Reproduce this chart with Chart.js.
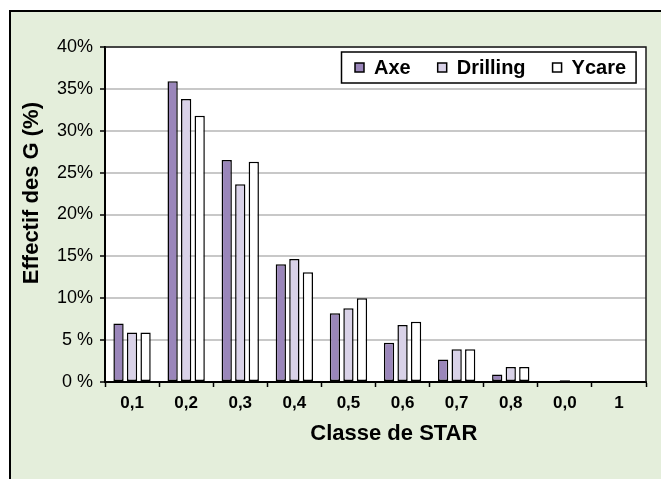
<!DOCTYPE html>
<html>
<head>
<meta charset="utf-8">
<script src="https://cdn.jsdelivr.net/npm/chart.js@4.4.0/dist/chart.umd.min.js"></script>
<style>
html, body { margin: 0; padding: 0; width: 661px; height: 479px; overflow: hidden; background: #fff; }
#frame { position: absolute; left: 9px; top: 10px; width: 700px; height: 520px; background: #e4eedb; border-left: 2px solid #000; border-top: 2px solid #000; }
#chart { position: absolute; left: 0; top: 0; }
</style>
</head>
<body>
<div id="frame"></div>
<canvas id="chart" width="661" height="479"></canvas>
<script>
// classes de STAR
var categories = ['0,1', '0,2', '0,3', '0,4', '0,5', '0,6', '0,7', '0,8', '0,0', '1'];

// effectif des G en %
var axe      = [7.0, 35.9, 26.5, 14.05, 8.2, 4.7, 2.7, 0.9, 0, 0];
var drilling = [5.9, 33.8, 23.6, 14.7, 8.8, 6.8, 3.9, 1.8, 0.2, 0];
var ycare    = [5.9, 31.8, 26.3, 13.1, 10.0, 7.2, 3.9, 1.8, 0, 0];

var yTickLabels = ['0 %', '5 %', '10%', '15%', '20%', '25%', '30%', '35%', '40%'];

var font = "'Liberation Sans', Arial, sans-serif";

// white plot area, top/right frame, and the legend box inside the plot
var plotFrame = {
	id: 'plotFrame',
	beforeDraw: function(chart) {
		var a = chart.chartArea, ctx = chart.ctx;
		ctx.save();
		ctx.fillStyle = '#fff';
		ctx.fillRect(a.left, a.top, a.right - a.left, a.bottom - a.top);
		ctx.restore();
	},
	afterDraw: function(chart) {
		var a = chart.chartArea, ctx = chart.ctx;
		ctx.save();
		ctx.strokeStyle = '#1a1a1a';
		ctx.lineWidth = 1.5;
		ctx.beginPath();
		ctx.moveTo(a.left, a.top);
		ctx.lineTo(a.right, a.top);
		ctx.lineTo(a.right, a.bottom);
		ctx.stroke();

		// legend
		var sets = chart.data.datasets;
		var left = a.left + 236.5, top = a.top + 5, h = 31;
		var cy = top + h / 2;
		var x = left + 13.5;
		ctx.font = 'bold 20px ' + font;
		ctx.textBaseline = 'middle';
		ctx.textAlign = 'left';
		for (var i = 0; i < sets.length; i++) {
			ctx.fillStyle = sets[i].backgroundColor;
			ctx.fillRect(x, cy - 4.5, 9, 9);
			ctx.lineWidth = 1.5;
			ctx.strokeStyle = '#000';
			ctx.strokeRect(x, cy - 4.5, 9, 9);
			x += 19;
			ctx.fillStyle = '#000';
			ctx.fillText(sets[i].label, x, cy + 1);
			x += ctx.measureText(sets[i].label).width;
			if (i < sets.length - 1) x += 27;
		}
		ctx.lineWidth = 1.5;
		ctx.strokeRect(left, top, x + 10 - left, h);
		ctx.restore();
	}
};

function bars(label, values, color) {
	return {
		label: label,
		data: values,
		backgroundColor: color,
		borderColor: '#000',
		borderWidth: 1.5,
		borderSkipped: false,
		categoryPercentage: 0.75,
		barPercentage: 0.76
	};
}

new Chart(document.getElementById('chart'), {
	type: 'bar',
	data: {
		labels: categories,
		datasets: [
			bars('Axe', axe, '#9a86ba'),
			bars('Drilling', drilling, '#d9d2e8'),
			bars('Ycare', ycare, '#ffffff')
		]
	},
	options: {
		responsive: false,
		animation: false,
		layout: { padding: { top: 47, right: 15, left: 0, bottom: 0 } },
		plugins: {
			tooltip: { enabled: false },
			legend: { display: false }
		},
		scales: {
			x: {
				afterFit: function(s) { s.height = 97; },
				grid: { drawOnChartArea: false, tickLength: 5, tickColor: '#000', tickWidth: 1.5 },
				border: { color: '#000', width: 2 },
				ticks: { color: '#000', padding: 6, font: { family: font, size: 17, weight: 'bold' } },
				title: {
					display: true,
					text: '      Classe de STAR',
					color: '#000',
					padding: { top: 0, bottom: 32 },
					font: { family: font, size: 22, weight: 'bold' }
				}
			},
			y: {
				min: 0,
				max: 40,
				afterFit: function(s) { s.width = 105; },
				grid: { color: '#c8c8c8', lineWidth: 2, tickLength: 5, tickColor: '#000', tickWidth: 1.5 },
				border: { color: '#000', width: 2 },
				ticks: {
					stepSize: 5,
					color: '#000',
					padding: 7,
					font: { family: font, size: 18 },
					callback: function(v) { return yTickLabels[v / 5]; }
				},
				title: {
					display: true,
					text: '       Effectif des G (%)',
					color: '#000',
					padding: { top: 19, bottom: 0 },
					font: { family: font, size: 22, weight: 'bold' }
				}
			}
		}
	},
	plugins: [plotFrame]
});
</script>
</body>
</html>
